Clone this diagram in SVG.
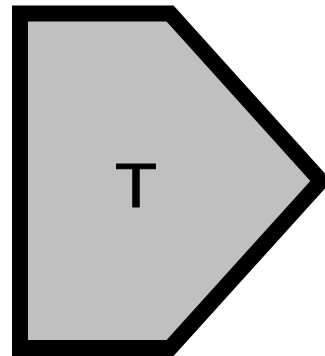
<svg xmlns="http://www.w3.org/2000/svg" width="325" height="356" viewBox="0 0 325 356">
<style>
.shape{fill:#c0c0c0;stroke:#000;stroke-width:16;stroke-linejoin:miter;stroke-miterlimit:10}
.lbl{font-family:"Liberation Sans",Arial,sans-serif;font-size:63px;fill:#000;stroke:#000;stroke-width:1;stroke-linejoin:round;text-anchor:middle}
</style>
<g id="node-T">
<polygon class="shape" points="20,13.5 170,13.5 321,181 170,348 20,348"/>
<text class="lbl" x="136" y="206.5" textLength="42" lengthAdjust="spacingAndGlyphs">T</text>
</g>
<g id="connectors"/>
</svg>
